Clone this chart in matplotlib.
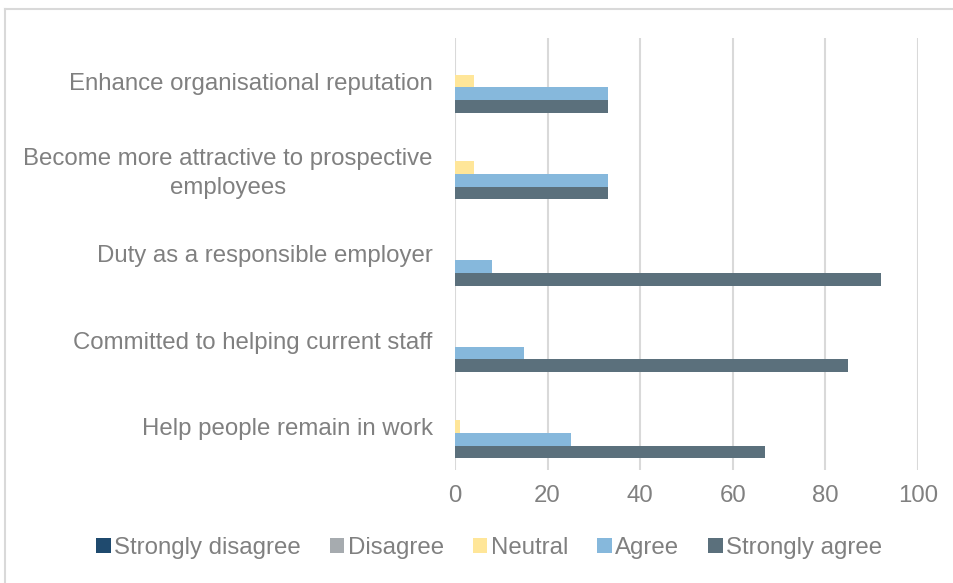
import matplotlib.pyplot as plt
from matplotlib.lines import Line2D
from matplotlib.patches import Patch
import numpy as np

plt.rcParams['font.family'] = ['Liberation Sans', 'DejaVu Sans']

categories = ["Enhance organisational reputation",
              "Become more attractive to prospective\nemployees",
              "Duty as a responsible employer",
              "Committed to helping current staff",
              "Help people remain in work"]
series = ["Strongly disagree", "Disagree", "Neutral", "Agree", "Strongly agree"]
strongly_disagree = [0, 0, 0, 0, 0]
disagree = [0, 0, 0, 0, 0]
neutral = [4, 4, 0, 0, 1]
agree = [33, 33, 8, 15, 25]
strongly_agree = [33, 33, 92, 85, 67]
ticks = [0, 20, 40, 60, 80, 100]

colors = ["#1F4A6E", "#A6ABAF", "#FFE699", "#86B8DC", "#5B707C"]
text_col = "#808080"
grid_col = "#D9D9D9"
fs = 17.3

fig = plt.figure(figsize=(9.54, 5.83), dpi=100)
ax = fig.add_axes([0.477, 0.194, 0.485, 0.741])

values = [strongly_disagree, disagree, neutral, agree, strongly_agree]
y = np.arange(len(categories))
h = 0.147
for i, (vals, c) in enumerate(zip(values, colors)):
    ax.barh(y + (i - 2) * h, vals, height=h, color=c, zorder=3)

ax.set_ylim(len(categories) - 0.5, -0.5)
ax.set_xlim(0, 100)
ax.set_xticks(ticks)
ax.set_yticks(y)
ax.set_yticklabels(categories, ha='right', multialignment='center')
for lbl in ax.get_yticklabels():
    lbl.set_linespacing(1.4)
ax.tick_params(axis='y', length=0, pad=16, labelsize=fs, labelcolor=text_col)
ax.tick_params(axis='x', length=0, pad=11, labelsize=fs, labelcolor=text_col)
ax.grid(axis='x', color=grid_col, linewidth=1.5, zorder=0)
for s in ax.spines.values():
    s.set_visible(False)

handles = [Patch(facecolor=c, label=s) for s, c in zip(series, colors)]
leg = fig.legend(handles=handles, loc='center', bbox_to_anchor=(0.513, 0.06), ncol=5,
                 frameon=False, fontsize=fs, handlelength=0.6, handleheight=0.6,
                 handletextpad=0.15, columnspacing=1.2, labelcolor=text_col)

# light frame along top and left edge
fig.add_artist(Line2D([5 / 954, 1], [1 - 9 / 583] * 2, color=grid_col, lw=1.5))
fig.add_artist(Line2D([5 / 954] * 2, [0, 1 - 9 / 583], color=grid_col, lw=1.5))

fig.savefig("out.png", dpi=100, facecolor='white')
